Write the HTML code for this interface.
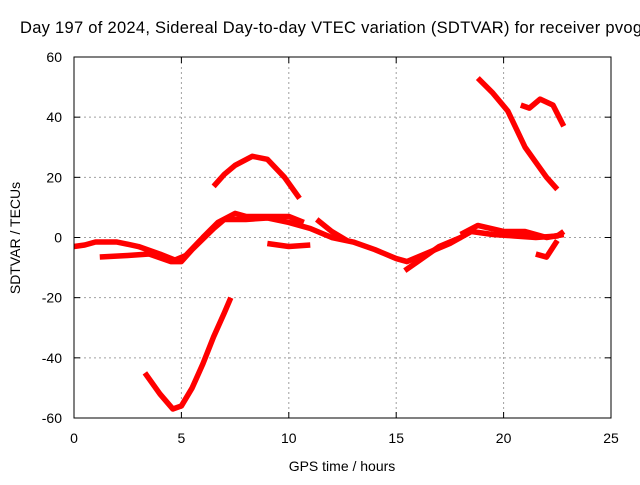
<!DOCTYPE html>
<html><head><meta charset="utf-8"><style>
body{margin:0;background:#fff}
svg text{font-family:"Liberation Sans",sans-serif;font-size:14px;fill:#000}
</style></head><body>
<svg id="c" width="640" height="480" viewBox="0 0 640 480">
<rect width="640" height="480" fill="#fff"/>
<text x="20" y="33" text-anchor="start" style="font-size:16.5px" textLength="622">Day 197 of 2024, Sidereal Day-to-day VTEC variation (SDTVAR) for receiver pvog</text>
<g id="grid"></g>
<g id="series"></g>
<rect x="74" y="57" width="537" height="361" fill="none" stroke="#000"/>
<g id="ticks"></g>
<text x="342" y="471" text-anchor="middle">GPS time / hours</text>
<text transform="translate(20,238) rotate(-90)" text-anchor="middle">SDTVAR / TECUs</text>
</svg>
<script>
const xTicks=[0,5,10,15,20,25];
const yTicks=[-60,-40,-20,0,20,40,60];
const seriesMainA=[[0,-3],[0.5,-2.5],[1,-1.5],[2,-1.5],[3,-3],[4,-5.5],[4.7,-7.5],[5.2,-6],[6,0],[6.7,5],[7.5,8],[8,7],[9,7],[10,7],[10.7,5]];
const seriesMainB=[[1.2,-6.5],[2.5,-6],[3.5,-5.5],[4.5,-8],[5,-8],[5.5,-4],[6.5,3],[7,6],[8,6],[9,6.5],[10,5],[11,3],[12,0],[13,-1.5],[14,-4],[15,-7],[15.5,-8],[16.5,-5],[17.5,-2],[18.5,2],[19.5,1],[20.5,0.5],[21.5,0],[22.5,0.5],[22.8,2]];
const seriesC=[[11.3,6],[12,2],[12.7,-1]];
const seriesD=[[9,-2],[10,-3],[11,-2.5]];
const seriesE=[[18,1],[18.8,4],[20,2],[21,2],[22,0],[22.8,1]];
const seriesF=[[15.4,-11],[16,-8],[17,-3],[18,0]];
const seriesG=[[21.5,-5.5],[22,-6.5],[22.5,-1]];
const seriesArc=[[6.5,17],[7,21],[7.5,24],[8.3,27],[9,26],[9.8,20],[10.5,13]];
const seriesDip=[[3.3,-45],[4,-52],[4.6,-57],[5,-56],[5.5,-50],[6,-42],[6.5,-33],[7,-25],[7.3,-20]];
const seriesTopR=[[18.8,53],[19.5,48],[20.2,42],[20.6,36],[21,30],[21.5,25],[22,20],[22.5,16]];
const seriesTopR2=[[20.8,44],[21.2,43],[21.7,46],[22.3,44],[22.8,37]];
const allSeries=[seriesMainA,seriesMainB,seriesC,seriesD,seriesE,seriesF,seriesG,seriesArc,seriesDip,seriesTopR,seriesTopR2];
const names=['main-a','main-b','seg-c','seg-d','seg-e','seg-f','seg-g','arc-top','dip','top-right','top-right-2'];
const X=h=>74+h*537/25, Y=v=>237.5-v*361/120;
const ns='http://www.w3.org/2000/svg';
const grid=document.getElementById('grid'),tk=document.getElementById('ticks'),sg=document.getElementById('series');
function mk(tag,a,p){const e=document.createElementNS(ns,tag);for(const k in a)e.setAttribute(k,a[k]);p.appendChild(e);return e;}
xTicks.forEach(t=>{
 if(t>0&&t<25){const g=mk('line',{x1:X(t),x2:X(t),y1:57,y2:418,stroke:'#a0a0a0','stroke-dasharray':'2,3'},grid);
 
 }
 mk('line',{x1:X(t),x2:X(t),y1:418,y2:412,stroke:'#000'},tk);
 mk('line',{x1:X(t),x2:X(t),y1:57,y2:63,stroke:'#000'},tk);
 const l=mk('text',{x:X(t),y:443,'text-anchor':'middle'},tk);l.textContent=t;
 
 
});
yTicks.forEach(t=>{
 if(t>-60&&t<60){const g=mk('line',{x1:74,x2:611,y1:Y(t),y2:Y(t),stroke:'#a0a0a0','stroke-dasharray':'2,3'},grid);
 
 }
 mk('line',{x1:74,x2:80,y1:Y(t),y2:Y(t),stroke:'#000'},tk);
 mk('line',{x1:611,x2:605,y1:Y(t),y2:Y(t),stroke:'#000'},tk);
 const l=mk('text',{x:62,y:Y(t)+5,'text-anchor':'end'},tk);l.textContent=t;
 
 
});
allSeries.forEach((s,i)=>{
 const p=mk('polyline',{points:s.map(d=>X(d[0])+','+Y(d[1])).join(' '),fill:'none',stroke:'#f00','stroke-width':5.5,'stroke-linejoin':'round'},sg);
 
 
});
</script>
</body></html>
